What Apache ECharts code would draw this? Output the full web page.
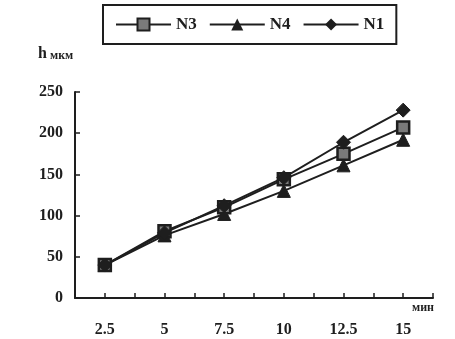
<!DOCTYPE html>
<html>
<head>
<meta charset="utf-8">
<script src="https://cdn.jsdelivr.net/npm/echarts@6/dist/echarts.min.js"></script>
<style>
html,body{margin:0;padding:0;background:#fff;}
#c{width:455px;height:339px;}
</style>
</head>
<body>
<div id="c"></div>
<script>
var xValues = [2.5, 5, 7.5, 10, 12.5, 15];
var n3 = [40, 81, 110, 144, 175, 207];
var n4 = [40, 76, 102, 130, 161, 192];
var n1 = [40, 79, 112, 146, 189, 228];
var seriesNames = ['N3', 'N4', 'N1'];
var yTicks = [0, 50, 100, 150, 200, 250];
var xLabel = 'мин';
var yLabelMain = 'h';
var yLabelUnit = 'мкм';

function pairs(arr){ return xValues.map(function(x,i){ return [x, arr[i]]; }); }

var font = 'Liberation Serif';
var ink = '#1e1e1e';
var chart = echarts.init(document.getElementById('c'));
chart.setOption({
  animation:false,
  backgroundColor:'#fff',
  legend:{
    left:103, top:5,
    padding:[11,12],
    borderColor:ink, borderWidth:2,
    itemWidth:55, itemHeight:15, itemGap:12,
    textStyle:{fontFamily:font, fontWeight:'bold', fontSize:17, color:ink},
    data:seriesNames
  },
  grid:{left:75, right:22, top:92, bottom:41, containLabel:false},
  graphic:[
    {type:'text', left:38, top:46, style:{text:yLabelMain, font:'bold 16px "Liberation Serif"', fill:ink}},
    {type:'text', left:50, top:50, style:{text:yLabelUnit, font:'bold 12px "Liberation Serif"', fill:ink}},
    {type:'text', left:412, top:302, style:{text:xLabel, font:'bold 12px "Liberation Serif"', fill:ink}}
  ],
  xAxis:{
    type:'value', min:1.25, max:16.25, interval:1.25,
    axisLine:{lineStyle:{color:ink, width:2}},
    axisTick:{inside:true, length:5, lineStyle:{color:ink, width:1.5}},
    splitLine:{show:false},
    axisLabel:{
      margin:24, fontFamily:font, fontWeight:'bold', fontSize:16, color:ink,
      formatter:function(v){ return xValues.indexOf(v) >= 0 ? String(v) : ''; }
    }
  },
  yAxis:{
    type:'value', min:yTicks[0], max:yTicks[yTicks.length-1], interval:50,
    axisLine:{show:true, lineStyle:{color:ink, width:2}},
    axisTick:{show:true, inside:true, length:5, lineStyle:{color:ink, width:1.5}},
    splitLine:{show:false},
    axisLabel:{margin:12, fontFamily:font, fontWeight:'bold', fontSize:16, color:ink}
  },
  series:[
    {name:'N3', type:'line', data:pairs(n3), symbol:'rect', symbolSize:12,
     lineStyle:{color:ink, width:2}, itemStyle:{color:'#7a7a7a', borderColor:ink, borderWidth:2.5}, z:3},
    {name:'N4', type:'line', data:pairs(n4), symbol:'triangle', symbolSize:13,
     lineStyle:{color:ink, width:2}, itemStyle:{color:ink, borderColor:ink}, z:2},
    {name:'N1', type:'line', data:pairs(n1), symbol:'diamond', symbolSize:14,
     lineStyle:{color:ink, width:2}, itemStyle:{color:ink, borderColor:ink}, z:4}
  ]
});
</script>
</body>
</html>
